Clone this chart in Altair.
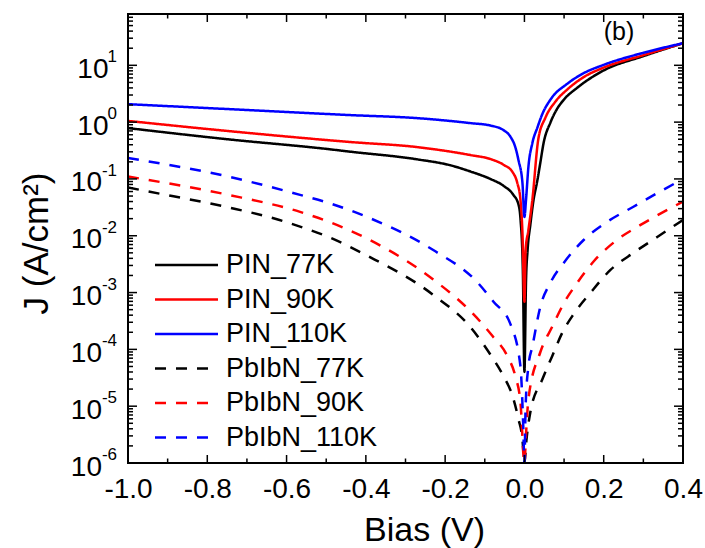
import altair as alt
import pandas as pd

# ---------------- data ----------------
series_names = ["PIN_77K", "PIN_90K", "PIN_110K", "PbIbN_77K", "PbIbN_90K", "PbIbN_110K"]
series_colors = ["#000000", "#ff0000", "#0000ff", "#000000", "#ff0000", "#0000ff"]

pin77_x = [-1.0, -0.75, -0.495, -0.44, -0.27, -0.187, -0.136, -0.086, -0.053, -0.028, -0.015, -0.010, -0.004,
           0.0, 0.004, 0.008, 0.015, 0.023, 0.032, 0.040, 0.048, 0.066, 0.083, 0.1, 0.134, 0.2, 0.3, 0.4]
pin77_j = [0.785, 0.50, 0.335, 0.302, 0.221, 0.174, 0.135, 0.100, 0.0759, 0.0525, 0.0355, 0.020, 0.0025,
           4.0e-5, 0.0016, 0.0056, 0.0158, 0.0427, 0.0891, 0.191, 0.417, 1.0, 1.74, 2.51, 4.07, 8.13, 14.5, 24.5]

pin90_x = [-1.0, -0.72, -0.44, -0.27, -0.136, -0.086, -0.053, -0.030, -0.018, -0.010, -0.005, 0.0, 0.003,
           0.010, 0.020, 0.035, 0.053, 0.078, 0.109, 0.149, 0.2, 0.3, 0.4]
pin90_j = [1.05, 0.668, 0.447, 0.363, 0.263, 0.224, 0.178, 0.132, 0.085, 0.0427, 0.0112, 6.9e-4, 5.6e-3,
           0.0126, 0.0427, 0.501, 1.20, 2.29, 3.80, 6.17, 9.12, 15.1, 24.5]

pin110_x = [-1.0, -0.72, -0.44, -0.27, -0.136, -0.086, -0.053, -0.035, -0.023, -0.015, -0.005, 0.0, 0.004,
            0.010, 0.020, 0.033, 0.045, 0.066, 0.109, 0.149, 0.2, 0.3, 0.4]
pin110_j = [2.07, 1.66, 1.33, 1.175, 0.96, 0.871, 0.724, 0.55, 0.363, 0.214, 0.085, 0.0214, 0.0427,
            0.162, 0.427, 0.813, 1.38, 2.51, 4.79, 7.24, 10.2, 16.6, 24.5]

pb77_x = [-1.0, -0.957, -0.747, -0.62, -0.566, -0.495, -0.397, -0.23, -0.136, -0.086, -0.053, -0.03, -0.015,
          -0.005, 0.0, 0.005, 0.015, 0.045, 0.07, 0.096, 0.124, 0.167, 0.217, 0.275, 0.335, 0.4]
pb77_j = [0.0708, 0.0617, 0.0316, 0.0191, 0.0145, 9.55e-3, 4.47e-3, 9.1e-4, 2.45e-4, 8.1e-5, 3.39e-5, 1.51e-5,
          5.9e-6, 2.6e-6, 1e-6, 2.5e-6, 7.9e-6, 2.95e-5, 7.6e-5, 2.0e-4, 4.17e-4, 1.0e-3, 2.5e-3, 5.0e-3, 9.5e-3,
          0.019]

pb90_x = [-1.0, -0.747, -0.566, -0.495, -0.397, -0.23, -0.136, -0.08, -0.043, -0.023, -0.01, 0.0, 0.004,
          0.01, 0.04, 0.07, 0.1, 0.134, 0.175, 0.234, 0.293, 0.351, 0.4]
pb90_j = [0.110, 0.0525, 0.0263, 0.0178, 8.9e-3, 1.70e-3, 4.68e-4, 1.70e-4, 7.6e-5, 3.39e-5, 1.17e-5, 1e-6,
          3.2e-6, 1.32e-5, 8.9e-5, 2.5e-4, 6.6e-4, 1.51e-3, 3.55e-3, 8.5e-3, 0.0155, 0.0263, 0.0398]

pb110_x = [-1.0, -0.747, -0.566, -0.495, -0.397, -0.23, -0.12, -0.078, -0.035, -0.01, -0.003, 0.0, 0.003,
           0.01, 0.02, 0.04, 0.066, 0.1, 0.15, 0.21, 0.275, 0.335, 0.4]
pb110_j = [0.234, 0.110, 0.0525, 0.038, 0.0214, 5.6e-3, 1.55e-3, 6.9e-4, 2.75e-4, 5.0e-5, 4.5e-6, 1e-6, 1e-5,
           5e-5, 1.12e-4, 5.6e-4, 1.51e-3, 3.39e-3, 8.5e-3, 0.0178, 0.0324, 0.0562, 0.1]

# tick values / labels
x_major = [-1.0, -0.8, -0.6, -0.4, -0.2, 0.0, 0.2, 0.4]
x_minor = [-0.9, -0.7, -0.5, -0.3, -0.1, 0.1, 0.3]
y_exps = [-6, -5, -4, -3, -2, -1, 0, 1]
y_exp_labels = ["-6", "-5", "-4", "-3", "-2", "-1", "0", "1"]
y_minor_mult = [2, 3, 4, 5, 6, 7, 8, 9]
panel_label = "(b)"

# ---------------- tables ----------------
xs_all = [pin77_x, pin90_x, pin110_x, pb77_x, pb90_x, pb110_x]
js_all = [pin77_j, pin90_j, pin110_j, pb77_j, pb90_j, pb110_j]
rows = []
for name, xv, jv in zip(series_names, xs_all, js_all):
    for a, b in zip(xv, jv):
        rows.append({"x": a, "J": b, "series": name})
df = pd.DataFrame(rows)

YMIN, YMAX = 1e-6, 80.0
W, H = 555, 449
FONT = "Liberation Sans"

ymaj = pd.DataFrame({"v": [10.0 ** e for e in y_exps], "e": y_exps, "base": ["10"] * len(y_exps),
                     "exp": y_exp_labels})
ymin_vals = []
for e in y_exps:
    for m in y_minor_mult:
        val = m * 10.0 ** e
        if val < YMAX:
            ymin_vals.append(val)
ymin_df = pd.DataFrame({"v": ymin_vals})
xmaj_df = pd.DataFrame({"v": x_major})
xmin_df = pd.DataFrame({"v": x_minor})

xs = alt.Scale(domain=[-1.0, 0.4], nice=False, zero=False)
ys = alt.Scale(type="log", domain=[YMIN, YMAX], nice=False)

x_axis = alt.Axis(
    values=x_major, labelExpr="(datum.value < 0 ? '-' : '') + format(abs(datum.value), '.1f')",
    ticks=False, domain=False, grid=False, labelFontSize=28, labelFont=FONT, labelColor="black",
    labelPadding=12, labelFlush=False, labelOverlap=False, labelBound=False,
    title="Bias (V)", titleFontSize=34, titleFont=FONT, titleFontWeight="normal",
    titleColor="black", titleX=296, titleY=77, titleBaseline="alphabetic", titleAlign="center")
y_axis = alt.Axis(
    labels=False, ticks=False, domain=False, grid=False, title="J (A/cm²)", titleFontSize=35,
    titleFont=FONT, titleFontWeight="normal", titleColor="black", titleX=-81, titleY=229,
    titleBaseline="alphabetic", titleAlign="center", titleAngle=-90)

legend = alt.Legend(
    title=None, orient="none", legendX=25.5, legendY=238, symbolType="stroke",
    symbolSize=3969, symbolStrokeWidth=2.5, labelFontSize=27, labelFont=FONT,
    labelColor="black", clipHeight=26, rowPadding=7.5, labelOffset=6.5, padding=0,
    labelLimit=400,
)

lines = alt.Chart(df).mark_line(strokeWidth=2.5, interpolate="monotone", clip=True).encode(
    x=alt.X("x:Q", scale=xs, axis=x_axis),
    y=alt.Y("J:Q", scale=ys, axis=y_axis),
    color=alt.Color("series:N", scale=alt.Scale(domain=series_names, range=series_colors), legend=legend),
    strokeDash=alt.StrokeDash("series:N", scale=alt.Scale(
        domain=series_names, range=[[1, 0], [1, 0], [1, 0], [11, 10], [11, 10], [11, 10]]), legend=legend),
)

def yrule(data, x0, x1):
    return alt.Chart(data).mark_rule(color="black", strokeWidth=1.5).encode(
        y=alt.Y("v:Q", scale=ys, axis=y_axis), x=alt.value(x0), x2=alt.value(x1))

def xrule(data, y0, y1):
    return alt.Chart(data).mark_rule(color="black", strokeWidth=1.5).encode(
        x=alt.X("v:Q", scale=xs, axis=x_axis), y=alt.value(y0), y2=alt.value(y1))

ticks = [
    yrule(ymaj, 0, 9), yrule(ymin_df, 0, 5), yrule(ymaj, W, W - 9), yrule(ymin_df, W, W - 5),
    xrule(xmaj_df, H, H - 8), xrule(xmin_df, H, H - 4.5), xrule(xmaj_df, 0, 8), xrule(xmin_df, 0, 4.5),
]

base_pos = alt.Chart(ymaj).transform_filter(alt.datum.e >= 0).mark_text(
    align="right", baseline="alphabetic", dy=12.5, fontSize=28, font=FONT, color="black").encode(
    y=alt.Y("v:Q", scale=ys, axis=y_axis), x=alt.value(-19.5), text="base:N")
base_neg = alt.Chart(ymaj).transform_filter(alt.datum.e < 0).mark_text(
    align="right", baseline="alphabetic", dy=12.5, fontSize=28, font=FONT, color="black").encode(
    y=alt.Y("v:Q", scale=ys, axis=y_axis), x=alt.value(-26), text="base:N")
exps = alt.Chart(ymaj).mark_text(
    align="right", baseline="alphabetic", dy=-3, fontSize=17, font=FONT, color="black").encode(
    y=alt.Y("v:Q", scale=ys, axis=y_axis), x=alt.value(-11), text="exp:N")

panel = alt.Chart(pd.DataFrame({"t": [panel_label]})).mark_text(
    align="center", baseline="alphabetic", fontSize=25, font=FONT, color="black").encode(
    x=alt.value(491), y=alt.value(26), text="t:N")

frame = alt.Chart(pd.DataFrame({"t": [panel_label]})).mark_rect(
    fill=None, stroke="black", strokeWidth=2).encode(
    x=alt.value(0), x2=alt.value(W), y=alt.value(0), y2=alt.value(H))

chart = alt.layer(lines, *ticks, base_pos, base_neg, exps, panel, frame).properties(
    width=W, height=H,
    autosize=alt.AutoSizeParams(type="none"),
    padding={"left": 128, "top": 14, "right": 22, "bottom": 85},
).configure_view(stroke=None).configure(background="white")

chart.save("out.html", embed_options={"renderer": "svg", "actions": False})
